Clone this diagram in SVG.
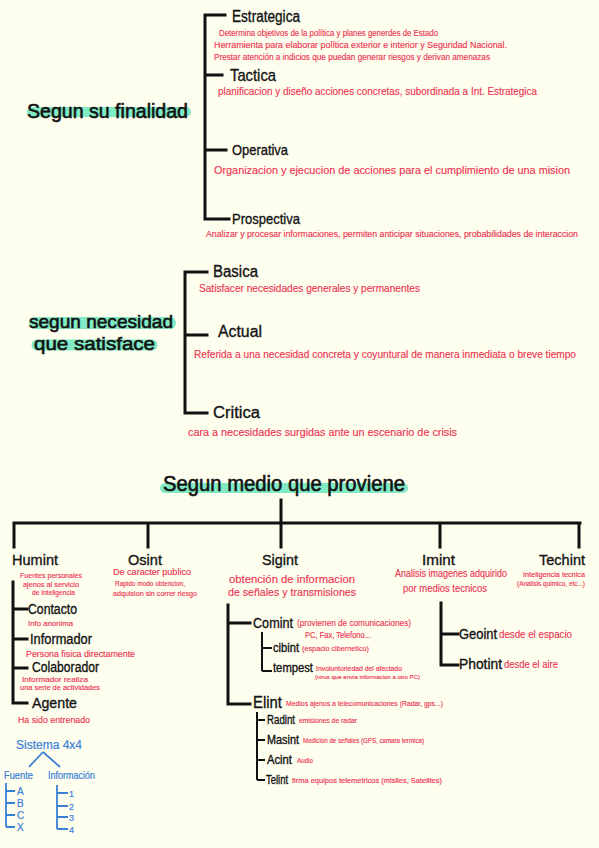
<svg xmlns="http://www.w3.org/2000/svg" width="599" height="848" viewBox="0 0 599 848">
<style>
text{font-family:"Liberation Sans",Arial,sans-serif;}
.h{fill:#141414;stroke:#141414;stroke-width:0.35;}
.r{fill:#ec3552;stroke:#ec3552;stroke-width:0.15;}
.b{fill:#3a7fd6;stroke:#3a7fd6;stroke-width:0.2;}
.t{fill:#121212;stroke:#121212;stroke-width:0.6;}
.hl{stroke:#73e8c0;stroke-linecap:round;fill:none;opacity:0.9;}
.ln{stroke:#111;stroke-width:3;fill:none;stroke-linecap:square;}
.ln2{stroke:#111;stroke-width:2;fill:none;}
.bl{stroke:#3a7fd6;stroke-width:1.8;fill:none;}
</style>
<rect width="599" height="848" fill="#fefeef"/>

<g id="connectors">
  <path class="ln" d="M205 15V219M205 15H225M205 75H222M205 150H226M205 219H229"/>
  <path class="ln" d="M185 272V413M185 272H207M185 335H207M185 413H207"/>
  <path class="ln" d="M281 500V523M14 523H580M14 523V547M148 523V547M281 523V547M440 523V547M579 523V547"/>
  <path class="ln" d="M13 582V703M13 609H27M13 639H27M13 668H27M13 703H27"/>
  <path class="ln" d="M228 605V704M228 623H250M228 704H250"/>
  <path class="ln2" d="M262 632V671M262 648H272M262 671H272"/>
  <path class="ln2" d="M257 712V780M257 720H265M257 740H265M257 760H265M257 780H265"/>
  <path class="ln" d="M441 603V665M441 634H458M441 665H458"/>
  <path class="bl" d="M43 752L29 767M43 752L60 767"/>
  <path class="bl" d="M6 783V827M6 791H15M6 803H15M6 815H15M6 827H15"/>
  <path class="bl" d="M57 785V829M57 793H68M57 806H68M57 817H68M57 829H68"/>
</g>

<g id="finalidad">
  <line class="hl" x1="32" y1="112" x2="186" y2="112" stroke-width="10"/>
  <text class="t" x="27" y="118" font-size="20" textLength="161" lengthAdjust="spacingAndGlyphs">Segun su finalidad</text>
</g>
<g id="estrategica">
  <text class="h" x="232" y="22" font-size="16" textLength="68" lengthAdjust="spacingAndGlyphs">Estrategica</text>
  <text class="r" x="219" y="36" font-size="9" textLength="219" lengthAdjust="spacingAndGlyphs">Determina objetivos de la política y planes generdes de Estado</text>
  <text class="r" x="214" y="48" font-size="9" textLength="293" lengthAdjust="spacingAndGlyphs">Herramienta para elaborar política exterior e interior y Seguridad Nacional.</text>
  <text class="r" x="214" y="60" font-size="9" textLength="276" lengthAdjust="spacingAndGlyphs">Prestar atención a indicios que puedan generar riesgos y derivan amenazas</text>
</g>
<g id="tactica">
  <text class="h" x="230" y="81" font-size="17" textLength="46" lengthAdjust="spacingAndGlyphs">Tactica</text>
  <text class="r" x="218" y="95" font-size="11" textLength="319" lengthAdjust="spacingAndGlyphs">planificacion y diseño acciones concretas, subordinada a Int. Estrategica</text>
</g>
<g id="operativa">
  <text class="h" x="232" y="155" font-size="15" textLength="56" lengthAdjust="spacingAndGlyphs">Operativa</text>
  <text class="r" x="214" y="174" font-size="11.5" textLength="356" lengthAdjust="spacingAndGlyphs">Organizacion y ejecucion de acciones  para el cumplimiento de una mision</text>
</g>
<g id="prospectiva">
  <text class="h" x="232" y="224" font-size="15" textLength="68" lengthAdjust="spacingAndGlyphs">Prospectiva</text>
  <text class="r" x="206" y="237" font-size="9" textLength="372" lengthAdjust="spacingAndGlyphs">Analizar y procesar informaciones, permiten anticipar situaciones, probabilidades de interaccion</text>
</g>

<g id="necesidad">
  <line class="hl" x1="35" y1="323" x2="170" y2="323" stroke-width="12"/>
  <line class="hl" x1="37" y1="345" x2="152" y2="345" stroke-width="11"/>
  <text class="t" x="29" y="328" font-size="19" textLength="144" lengthAdjust="spacingAndGlyphs">segun necesidad</text>
  <text class="t" x="34" y="350" font-size="19" textLength="121" lengthAdjust="spacingAndGlyphs">que satisface</text>
</g>
<g id="basica">
  <text class="h" x="213" y="277" font-size="16" textLength="45" lengthAdjust="spacingAndGlyphs">Basica</text>
  <text class="r" x="199" y="292" font-size="10.5" textLength="221" lengthAdjust="spacingAndGlyphs">Satisfacer necesidades generales y permanentes</text>
</g>
<g id="actual">
  <text class="h" x="218" y="337" font-size="16" textLength="44" lengthAdjust="spacingAndGlyphs">Actual</text>
  <text class="r" x="194" y="358" font-size="10.5" textLength="382" lengthAdjust="spacingAndGlyphs">Referida a una necesidad concreta y coyuntural de manera inmediata o breve tiempo</text>
</g>
<g id="critica">
  <text class="h" x="213" y="418" font-size="16" textLength="47" lengthAdjust="spacingAndGlyphs">Critica</text>
  <text class="r" x="188" y="436" font-size="10.5" textLength="269" lengthAdjust="spacingAndGlyphs">cara a necesidades surgidas ante un escenario de crisis</text>
</g>

<g id="medio">
  <line class="hl" x1="165" y1="488" x2="403" y2="488" stroke-width="10"/>
  <text class="t" x="163" y="491" font-size="22" textLength="242" lengthAdjust="spacingAndGlyphs">Segun medio que proviene</text>
</g>

<g id="humint">
  <text class="h" x="12" y="565" font-size="15" textLength="46" lengthAdjust="spacingAndGlyphs">Humint</text>
  <text class="r" x="20" y="578" font-size="7.5" textLength="62" lengthAdjust="spacingAndGlyphs">Fuentes personales</text>
  <text class="r" x="23" y="587" font-size="7.5" textLength="56" lengthAdjust="spacingAndGlyphs">ajenos al servicio</text>
  <text class="r" x="32" y="595" font-size="7.5" textLength="43" lengthAdjust="spacingAndGlyphs">de Inteligencia</text>
</g>
<g id="contacto">
  <text class="h" x="28" y="614" font-size="14" textLength="49" lengthAdjust="spacingAndGlyphs">Contacto</text>
  <text class="r" x="28" y="626" font-size="8" textLength="45" lengthAdjust="spacingAndGlyphs">Info anonima</text>
</g>
<g id="informador">
  <text class="h" x="30" y="644" font-size="14" textLength="62" lengthAdjust="spacingAndGlyphs">Informador</text>
  <text class="r" x="26" y="657" font-size="9" textLength="109" lengthAdjust="spacingAndGlyphs">Persona fisica directamente</text>
</g>
<g id="colaborador">
  <text class="h" x="32" y="672" font-size="14" textLength="67" lengthAdjust="spacingAndGlyphs">Colaborador</text>
  <text class="r" x="22" y="682" font-size="7.5" textLength="66" lengthAdjust="spacingAndGlyphs">Informador realiza</text>
  <text class="r" x="20" y="690" font-size="7.5" textLength="80" lengthAdjust="spacingAndGlyphs">una serie de actividades</text>
</g>
<g id="agente">
  <text class="h" x="32" y="708" font-size="15" textLength="45" lengthAdjust="spacingAndGlyphs">Agente</text>
  <text class="r" x="18" y="723" font-size="9.5" textLength="72" lengthAdjust="spacingAndGlyphs">Ha sido entrenado</text>
</g>

<g id="osint">
  <text class="h" x="128" y="565" font-size="15" textLength="34" lengthAdjust="spacingAndGlyphs">Osint</text>
  <text class="r" x="113" y="575" font-size="9" textLength="78" lengthAdjust="spacingAndGlyphs">De caracter publico</text>
  <text class="r" x="115" y="586" font-size="7.5" textLength="70" lengthAdjust="spacingAndGlyphs">Rapido modo obtencion,</text>
  <text class="r" x="113" y="596" font-size="7.5" textLength="84" lengthAdjust="spacingAndGlyphs">adquision sin correr riesgo</text>
</g>

<g id="sigint">
  <text class="h" x="262" y="565" font-size="15" textLength="36" lengthAdjust="spacingAndGlyphs">Sigint</text>
  <text class="r" x="229" y="583" font-size="11.5" textLength="126" lengthAdjust="spacingAndGlyphs">obtención de informacion</text>
  <text class="r" x="228" y="596" font-size="11.5" textLength="128" lengthAdjust="spacingAndGlyphs">de señales y transmisiones</text>
</g>
<g id="comint">
  <text class="h" x="253" y="628" font-size="15" textLength="40" lengthAdjust="spacingAndGlyphs">Comint</text>
  <text class="r" x="297" y="626" font-size="9.5" textLength="114" lengthAdjust="spacingAndGlyphs">(provienen de comunicaciones)</text>
  <text class="r" x="305" y="638" font-size="8.5" textLength="66" lengthAdjust="spacingAndGlyphs">PC, Fax, Telefono...</text>
</g>
<g id="cibint">
  <text class="h" x="273" y="652" font-size="12" textLength="26" lengthAdjust="spacingAndGlyphs">cibint</text>
  <text class="r" x="302" y="651" font-size="8" textLength="67" lengthAdjust="spacingAndGlyphs">(espacio cibernetico)</text>
</g>
<g id="tempest">
  <text class="h" x="273" y="672" font-size="12" textLength="40" lengthAdjust="spacingAndGlyphs">tempest</text>
  <text class="r" x="316" y="671" font-size="7" textLength="86" lengthAdjust="spacingAndGlyphs">Involuntoriedad del afectado</text>
  <text class="r" x="315" y="679" font-size="6" textLength="105" lengthAdjust="spacingAndGlyphs">(virus que envia informacion a otro PC)</text>
</g>
<g id="elint">
  <text class="h" x="253" y="708" font-size="17" textLength="29" lengthAdjust="spacingAndGlyphs">Elint</text>
  <text class="r" x="286" y="706" font-size="7.5" textLength="157" lengthAdjust="spacingAndGlyphs">Medios ajenos a telecomunicaciones (Radar, gps...)</text>
</g>
<g id="radint">
  <text class="h" x="267" y="724" font-size="12" textLength="28" lengthAdjust="spacingAndGlyphs">Radint</text>
  <text class="r" x="299" y="723" font-size="7" textLength="58" lengthAdjust="spacingAndGlyphs">emisiones de radar</text>
</g>
<g id="masint">
  <text class="h" x="267" y="744" font-size="12" textLength="32" lengthAdjust="spacingAndGlyphs">Masint</text>
  <text class="r" x="303" y="743" font-size="7" textLength="121" lengthAdjust="spacingAndGlyphs">Medicion de señales (GPS, camara termica)</text>
</g>
<g id="acint">
  <text class="h" x="267" y="764" font-size="12" textLength="25" lengthAdjust="spacingAndGlyphs">Acint</text>
  <text class="r" x="297" y="763" font-size="7" textLength="16" lengthAdjust="spacingAndGlyphs">Audio</text>
</g>
<g id="telint">
  <text class="h" x="266" y="784" font-size="12" textLength="22" lengthAdjust="spacingAndGlyphs">Telint</text>
  <text class="r" x="292" y="783" font-size="7" textLength="150" lengthAdjust="spacingAndGlyphs">firma equipos telemetricos (misiles, Satelites)</text>
</g>

<g id="imint">
  <text class="h" x="422" y="565" font-size="15" textLength="33" lengthAdjust="spacingAndGlyphs">Imint</text>
  <text class="r" x="395" y="577" font-size="10" textLength="112" lengthAdjust="spacingAndGlyphs">Analisis imagenes adquirido</text>
  <text class="r" x="403" y="592" font-size="10" textLength="84" lengthAdjust="spacingAndGlyphs">por medios tecnicos</text>
</g>
<g id="geoint">
  <text class="h" x="459" y="639" font-size="14" textLength="38" lengthAdjust="spacingAndGlyphs">Geoint</text>
  <text class="r" x="499" y="638" font-size="11" textLength="73" lengthAdjust="spacingAndGlyphs">desde el espacio</text>
</g>
<g id="photint">
  <text class="h" x="459" y="669" font-size="14" textLength="43" lengthAdjust="spacingAndGlyphs">Photint</text>
  <text class="r" x="504" y="668" font-size="11" textLength="54" lengthAdjust="spacingAndGlyphs">desde el aire</text>
</g>

<g id="techint">
  <text class="h" x="539" y="565" font-size="15" textLength="46" lengthAdjust="spacingAndGlyphs">Techint</text>
  <text class="r" x="523" y="577" font-size="7" textLength="62" lengthAdjust="spacingAndGlyphs">Inteligencia tecnica</text>
  <text class="r" x="517" y="586" font-size="7" textLength="68" lengthAdjust="spacingAndGlyphs">(Analisis quimico, etc...)</text>
</g>

<g id="sistema">
  <text class="b" x="16" y="749" font-size="12" textLength="66" lengthAdjust="spacingAndGlyphs">Sistema 4x4</text>
</g>
<g id="fuente">
  <text class="b" x="4" y="779" font-size="10" textLength="29" lengthAdjust="spacingAndGlyphs">Fuente</text>
  <text class="b" x="17" y="795" font-size="10">A</text>
  <text class="b" x="17" y="807" font-size="10">B</text>
  <text class="b" x="17" y="819" font-size="10">C</text>
  <text class="b" x="17" y="831" font-size="10">X</text>
</g>
<g id="informacion">
  <text class="b" x="48" y="779" font-size="10" textLength="47" lengthAdjust="spacingAndGlyphs">Información</text>
  <text class="b" x="69" y="797" font-size="9">1</text>
  <text class="b" x="69" y="810" font-size="9">2</text>
  <text class="b" x="69" y="821" font-size="9">3</text>
  <text class="b" x="69" y="833" font-size="9">4</text>
</g>
</svg>
